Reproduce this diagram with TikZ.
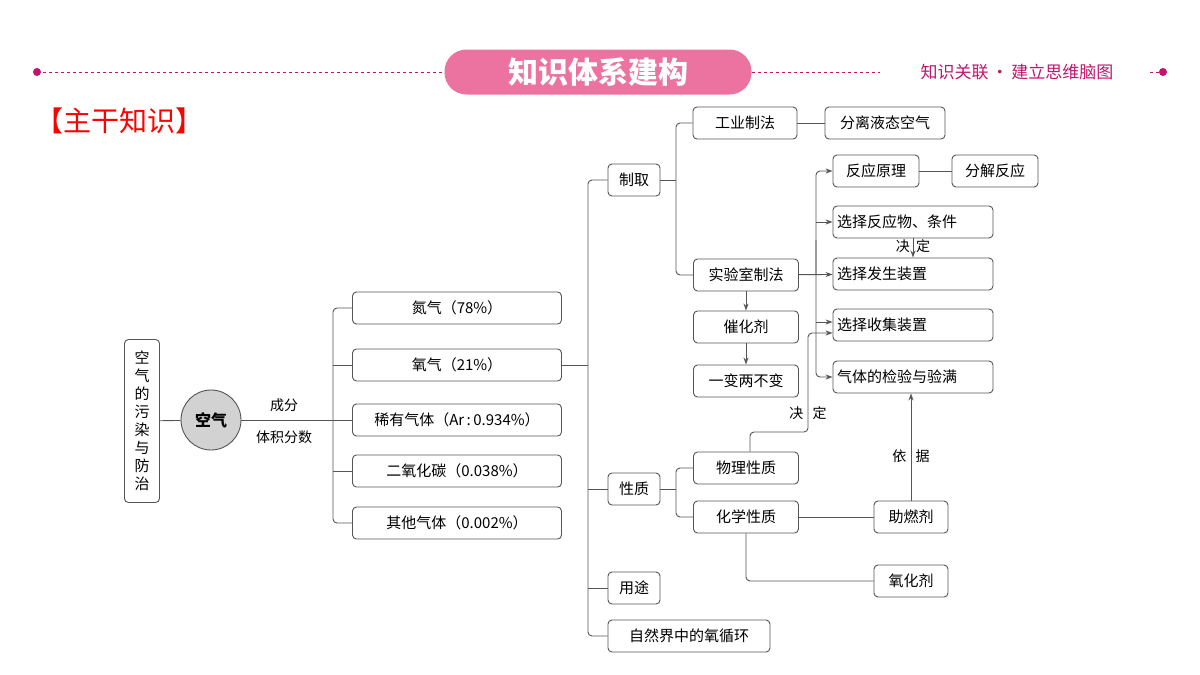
\documentclass[tikz,border=0pt]{standalone}
\usepackage{fontspec}
\setmainfont{Noto Sans CJK SC}
\usetikzlibrary{arrows.meta}
\definecolor{lnk}{HTML}{555555}
\definecolor{mag}{HTML}{C0146E}
\definecolor{pill}{HTML}{EC72A0}
\begin{document}
\begin{tikzpicture}[x=1pt,y=-1pt]
	\tikzset{bx/.style={draw=lnk, rounded corners=4pt, line width=0.9pt, minimum height=32pt, inner sep=3pt, font=\fontsize{15}{18}\selectfont},
		ln/.style={draw=lnk, line width=0.9pt, rounded corners=4pt},
		ar/.style={ln, -{Stealth[length=7pt,width=5pt]}},
		lb/.style={font=\fontsize{14}{16}\selectfont}};
	\useasboundingbox (0,0) rectangle (1200,675);

	% banner
	\fill[mag] (37,72) circle (4);
	\fill[mag] (1163,72) circle (4);
	\draw[mag, dashed, line width=1pt] (37,72) -- (445,72);
	\draw[mag, dashed, line width=1pt] (752,72) -- (880,72);
	\draw[mag, dashed, line width=1pt] (1150,72) -- (1163,72);
	\node[fill=pill, rounded corners=22pt, minimum width=307pt, minimum height=45pt, text=white, font=\fontsize{30}{34}\selectfont\bfseries] (ttl) at (598,72) {知识体系建构};
	\node[text=mag, font=\fontsize{17}{20}\selectfont] (sub) at (1017,72) {知识关联\,·\,建立思维脑图};
	\node[text=red, font=\fontsize{28}{32}\selectfont, anchor=west] (head) at (32,121) {【主干知识】};

	% left part
	\node[bx, minimum width=35pt, minimum height=163pt, text width=16pt, align=center, inner sep=1pt] (pol) at (142,421) {空\\气\\的\\污\\染\\与\\防\\治};
	\node[circle, draw=lnk, fill=gray!35, line width=0.9pt, minimum size=60pt, font=\fontsize{16}{18}\selectfont\bfseries] (air) at (211,420) {空气};
	\node[lb] (cf) at (284,405) {成分};
	\node[lb] (tj) at (284,437) {体积分数};
	\node[bx, minimum width=209pt] (n2) at (457,308) {氮气（78\%）};
	\node[bx, minimum width=209pt] (o2) at (457,365) {氧气（21\%）};
	\node[bx, minimum width=209pt] (rare) at (457,420) {稀有气体（Ar\,:\,0.934\%）};
	\node[bx, minimum width=209pt] (co2) at (457,471) {二氧化碳（0.038\%）};
	\node[bx, minimum width=209pt] (oth) at (457,523) {其他气体（0.002\%）};

	% oxygen branches
	\node[bx, minimum width=52pt] (zq) at (634,180) {制取};
	\node[bx, minimum width=52pt] (xz) at (634,489) {性质};
	\node[bx, minimum width=52pt] (yt) at (634,588) {用途};
	\node[bx, minimum width=162pt] (xh) at (689,636) {自然界中的氧循环};
	\node[bx, minimum width=104pt] (gy) at (745,123) {工业制法};
	\node[bx, minimum width=120pt] (fl) at (885,123) {分离液态空气};
	\node[bx, minimum width=105pt] (sy) at (746,275) {实验室制法};
	\node[bx, minimum width=105pt] (chj) at (746,327) {催化剂};
	\node[bx, minimum width=105pt] (ybl) at (746,381) {一变两不变};
	\node[bx, minimum width=86pt] (yl) at (876,171) {反应原理};
	\node[bx, minimum width=86pt] (fj) at (995,171) {分解反应};
	\node[bx, minimum width=160pt, text width=152pt] (xw) at (913,222) {选择反应物、条件};
	\node[bx, minimum width=160pt, text width=152pt] (fs) at (913,274) {选择发生装置};
	\node[bx, minimum width=160pt, text width=152pt] (sj) at (913,325) {选择收集装置};
	\node[bx, minimum width=160pt, text width=152pt] (jy) at (913,377) {气体的检验与验满};
	\node[bx, minimum width=105pt] (wl) at (746,468) {物理性质};
	\node[bx, minimum width=105pt] (hx) at (746,517) {化学性质};
	\node[bx, minimum width=74pt] (zr) at (911,517) {助燃剂};
	\node[bx, minimum width=74pt] (yh) at (911,581) {氧化剂};
	\node[lb] (jd1) at (913,246) {决\ \ 定};
	\node[lb] (jd2) at (808,413) {决\ \ \ 定};
	\node[lb] (yj) at (911,456) {依\ \ \ 据};

	% links
	\draw[ln] (pol) -- (air);
	\draw[ln] (air) -- (rare);
	\draw[ln] (n2.west) -- (333,308) -- (333,523) -- (oth.west);
	\draw[ln] (o2.west) -- (333,365);
	\draw[ln] (co2.west) -- (333,471);
	\draw[ln] (o2.east) -- (588,365);
	\draw[ln] (zq.west) -- (588,180) -- (588,636) -- (xh.west);
	\draw[ln] (xz.west) -- (588,489);
	\draw[ln] (yt.west) -- (588,588);
	\draw[ln] (gy.west) -- (676,123) -- (676,275) -- (sy.west);
	\draw[ln] (zq.east) -- (676,180);
	\draw[ln] (gy) -- (fl);
	\draw[ln] (yl) -- (fj);
	\draw[ar] (sy) -- (chj);
	\draw[ar] (chj) -- (ybl);
	\draw[ar] (sy) -- (fs);
	\draw[ar] (xw) -- (fs);
	\draw[ar] (816,275) -- (816,171) -- (yl.west);
	\draw[ar] (816,222) -- (xw.west);
	\draw[ar] (816,240) -- (816,377) -- (jy.west);
	\draw[ar] (816,322) -- (sj.west |- 0,322);
	\draw[ar] (wl.north -| 750,0) -- (750,432) -- (808,432) -- (808,333) -- (sj.west |- 0,333);
	\draw[ln] (wl.west) -- (676,468) -- (676,517) -- (hx.west);
	\draw[ln] (xz.east) -- (676,489);
	\draw[ln] (hx) -- (zr);
	\draw[ln] (hx.south) -- (746,581) -- (yh.west);
	\draw[ar] (zr) -- (jy.south -| zr);
\end{tikzpicture}
\end{document}
